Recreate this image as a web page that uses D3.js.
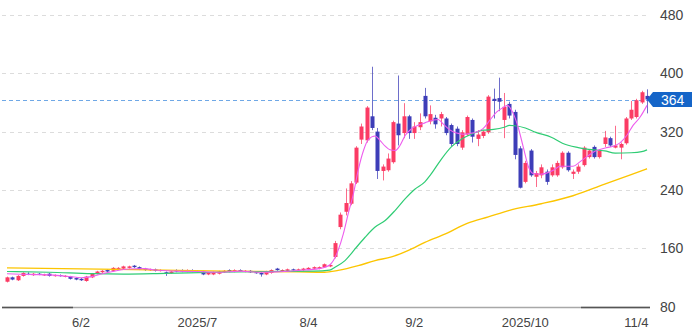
<!DOCTYPE html>
<html><head><meta charset="utf-8">
<script src="https://cdn.jsdelivr.net/npm/d3@7"></script>
<style>body{margin:0;background:#fff;} svg{display:block;font-family:"Liberation Sans",Arial,sans-serif;}</style>
</head><body><svg id="c" width="693" height="336"></svg>
<script>
// ---- data ----
const opens  = [114,120,116,122,125,123,125,123,125,122,123,121,121,119,118,115,120,125,127,130,129,132,132,133,136,134,132,130,131,129,127,126,130,130,128,130,128,128,124,124,125,127,130,128,130,128,129,127,126,124,126,132,129,129,131,130,130,131,132,132,134,135,
  148,189,210,221,250,309,308,341,320,266,267,278,331,318,341,318,326,369,334,339,338,338,329,324,298,316,336,310,314,319,365,366,336,358,347,297,251,294,258,260,265,260,260,271,291,262,265,274,285,299,285,303,311,298,298,304,338,340,360,369];
const highs  = [121,121,123,127,127,126,126,125,126,124,124,123,122,120,119,122,126,129,130,131,134,134,136,136,137,135,133,132,132,131,128,129,131,131,131,131,130,129,127,128,129,130,131,131,131,130,130,128,127,129,131,133,131,132,132,132,133,134,135,135,139,138,
  170,209,242,252,300,331,355,409,325,275,290,335,397,359,343,333,345,380,356,343,347,340,331,327,322,342,338,322,322,370,379,394,373,361,350,300,280,296,266,275,268,275,280,293,293,268,275,300,296,301,296,321,313,328,305,340,362,365,376,378];
const lows   = [113,116,115,121,123,122,123,122,121,121,121,120,117,116,115,114,119,124,126,127,128,131,131,132,133,130,129,129,128,128,122,125,127,127,127,127,127,123,123,123,124,126,127,127,128,127,126,125,121,123,125,129,128,128,129,129,129,130,131,131,133,134,
  146,186,205,219,248,303,305,322,255,253,265,276,301,311,310,310,322,338,330,324,327,315,300,300,295,314,305,300,311,317,338,348,311,338,282,242,249,258,244,256,247,258,258,269,265,255,262,272,283,283,283,299,299,297,282,302,336,338,358,345];
const closes = [120,117,122,126,124,125,124,124,122,123,122,122,118,117,116,121,125,128,129,128,133,133,135,135,134,131,130,131,129,130,126,128,128,128,130,128,129,124,126,127,128,129,128,130,129,129,127,126,124,128,130,130,130,131,130,131,132,133,134,134,138,137,
  167,206,222,249,298,327,353,325,266,272,283,333,315,341,318,327,333,341,344,330,344,318,303,303,319,340,313,316,320,368,362,361,354,342,288,243,277,260,263,271,251,271,277,291,267,265,272,298,294,285,294,312,301,301,303,338,350,363,374,364];

// moving averages: [candle index, value]
const ma5  = [[0,125],[4,124],[9,123],[12,121],[14,119.5],[16,121],[18,125],[20,128],[23,131.5],[26,132],[28,130],[32,128.5],[36,128],[40,127],[44,128.5],[48,127],[51,127.5],[55,129.5],[59,132],[61,137],
  [62.6,157],[63.6,180],[64.5,207],[65.5,235],[66.4,267],[67.4,294],[68.3,309],[69.6,314],[70.5,308],[71.5,300],[72.4,295],[73.4,294],[74.3,301],[75.3,315],[76.5,324],[77.8,329],[79,332],[81.5,336.6],[82.4,331],[83.8,322],[85,318],[86.3,316.4],[87.5,317.4],[88.8,319.6],[90,324],[91.3,335.7],[92.6,347],[93.8,353],[94.6,356],[95.7,345],[96.6,327],[97.6,299],[98.6,271.5],[99.5,262.4],[100.8,261.4],[102,263],[103.3,267],[104.6,272.4],[107,272.4],[108.3,278.4],[109.6,285.3],[110.9,292],[112.1,295.4],[113.4,298],[114.6,300],[115.9,304.5],[117.2,315],[118.4,328.8],[119.7,340],[121,356]];
const ma25 = [[0,128],[8,127],[16,125],[22,124.5],[30,125.5],[40,127],[50,128],[58,128.5],[61,130],[62,134],[63.9,143],[65.8,159],[67.7,175],[69.6,189],[71.5,198],[73.4,212],[75.3,228],[77.1,241],[79,251],[80,260],[82,281],[84,299],[86,310],[88,317],[90,322],[92,323],[94,326],[95,328.5],[96,328],[98,325],[100,319],[103,312],[105,304],[108,298],[110,295.5],[113,293.5],[115,290.5],[118,291],[120,292.5],[121,295]];
const ma75 = [[0,133],[21,131],[41,128.5],[55,127.5],[60,127],[62.6,129.5],[66.4,136],[69.6,143],[72.7,148],[75.9,157],[79,168],[83,180],[87,194],[91,203],[95,212],[101,221],[107,232],[113,248],[118,261],[121,269]];

const yTicks = [80,160,240,320,400,480];
const xTickIdx = [14,36,57,77,98,119];
const xTickLabels = ["6/2","2025/7","8/4","9/2","2025/10","11/4"];
const lastPrice = 364;

// ---- drawing ----
const svg = d3.select("#c");
const x = d3.scaleLinear().domain([0,121]).range([7,647]);
const y = d3.scaleLinear().domain([80,480]).range([306.5,15]);
const RED="#fb3b64", BLUE="#3d3db8";

// grid
svg.append("g").selectAll("line").data(yTicks.filter(v=>v>80)).join("line")
  .attr("x1",2).attr("x2",650).attr("y1",d=>Math.round(y(d))+0.5).attr("y2",d=>Math.round(y(d))+0.5)
  .attr("stroke","#dcdcdc").attr("stroke-dasharray","4,4").attr("stroke-width",1);

// last price line
svg.append("line").attr("x1",2).attr("x2",648)
  .attr("y1",Math.round(y(lastPrice))+0.5).attr("y2",Math.round(y(lastPrice))+0.5)
  .attr("stroke","#6fa8e6").attr("stroke-dasharray","4,3").attr("stroke-width",1.2);

// candles
const idx = d3.range(closes.length);
const bw = 4;
const g = svg.append("g");
g.selectAll("line.w").data(idx).join("line").attr("class","w")
  .attr("x1",i=>Math.round(x(i))+0.5).attr("x2",i=>Math.round(x(i))+0.5)
  .attr("y1",i=>y(highs[i])).attr("y2",i=>y(lows[i]))
  .attr("stroke",i=>closes[i]>=opens[i]?RED:BLUE).attr("stroke-opacity",0.75).attr("stroke-width",1);
g.selectAll("rect").data(idx).join("rect")
  .attr("x",i=>Math.round(x(i))-bw/2+0.5).attr("width",bw)
  .attr("y",i=>y(Math.max(opens[i],closes[i])))
  .attr("height",i=>Math.max(1,Math.abs(y(opens[i])-y(closes[i]))))
  .attr("fill",i=>closes[i]>=opens[i]?RED:BLUE);

// MA lines
const line = d3.line().x(d=>x(d[0])).y(d=>y(d[1])).curve(d3.curveMonotoneX);
svg.append("path").attr("d",line(ma75)).attr("fill","none").attr("stroke","#fcc500").attr("stroke-width",1.4);
svg.append("path").attr("d",line(ma25)).attr("fill","none").attr("stroke","#2fcc74").attr("stroke-width",1.2);
svg.append("path").attr("d",line(ma5)).attr("fill","none").attr("stroke","#ee5cee").attr("stroke-width",1.1);

// bottom axis line
const by = Math.round(y(80))+0.5;
svg.append("line").attr("x1",2).attr("x2",650).attr("y1",by).attr("y2",by).attr("stroke","#a8a8a8").attr("stroke-width",1.6);
svg.append("line").attr("x1",2).attr("x2",73).attr("y1",by).attr("y2",by).attr("stroke","#555").attr("stroke-width",1.6);
svg.append("line").attr("x1",581).attr("x2",650).attr("y1",by).attr("y2",by).attr("stroke","#555").attr("stroke-width",1.6);

// y labels
svg.append("g").selectAll("text").data(yTicks).join("text")
  .attr("x",660).attr("y",d=>y(d)+5).attr("font-size",14).attr("fill","#444").text(d=>d);

// x labels
svg.append("g").selectAll("text").data(xTickIdx).join("text")
  .attr("x",i=>x(i)).attr("y",327).attr("text-anchor","middle").attr("font-size",13).attr("fill","#444")
  .text((d,k)=>xTickLabels[k]);

// price tag
const py = y(lastPrice);
svg.append("path").attr("d",`M647,${py} L653,${py-7.5} L692,${py-7.5} L692,${py+7.5} L653,${py+7.5} Z`).attr("fill","#1565c8");
svg.append("text").attr("x",661).attr("y",py+5).attr("font-size",14).attr("fill","#fff").text(lastPrice);
</script></body></html>
